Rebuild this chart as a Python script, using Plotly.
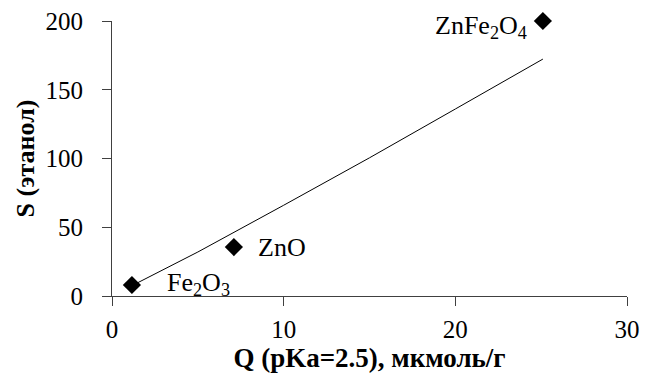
import plotly.graph_objects as go

# Data points (Q, S)
samples = ["Fe<sub>2</sub>O<sub>3</sub>", "ZnO", "ZnFe<sub>2</sub>O<sub>4</sub>"]
q_values = [1.16, 7.1, 25.1]
s_values = [8, 35.6, 200]

# Trend line
trend_q = [1.16, 5, 10, 15, 20, 25.1]
trend_s = [7.5, 32, 66, 100.5, 136, 172.3]

x_ticks = [0, 10, 20, 30]
y_ticks = [0, 50, 100, 150, 200]

font_family = "Times New Roman, Liberation Serif, DejaVu Serif, serif"

fig = go.Figure()
fig.add_trace(go.Scatter(
    x=trend_q, y=trend_s, mode="lines",
    line=dict(color="#000000", width=1),
    hoverinfo="skip", showlegend=False,
))
fig.add_trace(go.Scatter(
    x=q_values, y=s_values, mode="markers",
    marker=dict(symbol="diamond", size=14, color="#000000"),
    cliponaxis=False, showlegend=False,
))

label_pos = [
    dict(x=3.1, y=9.0, xanchor="left"),
    dict(x=8.4, y=35.6, xanchor="left"),
    dict(x=24.3, y=196, xanchor="right"),
]
for name, p in zip(samples, label_pos):
    fig.add_annotation(
        x=p["x"], y=p["y"], text=name, showarrow=False,
        xanchor=p["xanchor"], yanchor="middle",
        font=dict(family=font_family, size=26, color="#000000"),
    )

fig.update_layout(
    width=656, height=374,
    margin=dict(l=112, r=29, t=21, b=78, autoexpand=False),
    paper_bgcolor="white", plot_bgcolor="white",
    font=dict(family=font_family, size=25, color="#000000"),
    xaxis=dict(
        range=[0, 30], tickvals=x_ticks, showgrid=False, zeroline=False,
        showline=True, linecolor="#404040", linewidth=1,
        ticks="outside", ticklen=9, tickcolor="#404040",
        tickfont=dict(family=font_family, size=25), automargin=False,
        ticklabelstandoff=2,
        title=dict(text="<b>Q (pKa=2.5), мкмоль/г</b>",
                   font=dict(family=font_family, size=27), standoff=5),
    ),
    yaxis=dict(
        range=[0, 200], tickvals=y_ticks, showgrid=False, zeroline=False,
        showline=True, linecolor="#404040", linewidth=1,
        ticks="outside", ticklen=9, tickcolor="#404040",
        tickfont=dict(family=font_family, size=25), automargin=False,
        ticklabelstandoff=14,
        title=dict(text="<b>S (этанол)</b>",
                   font=dict(family=font_family, size=26), standoff=3),
    ),
)

fig.write_html(
    "out.html",
    config={"displayModeBar": False},
    post_script="document.body.style.margin='0';document.body.style.padding='0';",
)
